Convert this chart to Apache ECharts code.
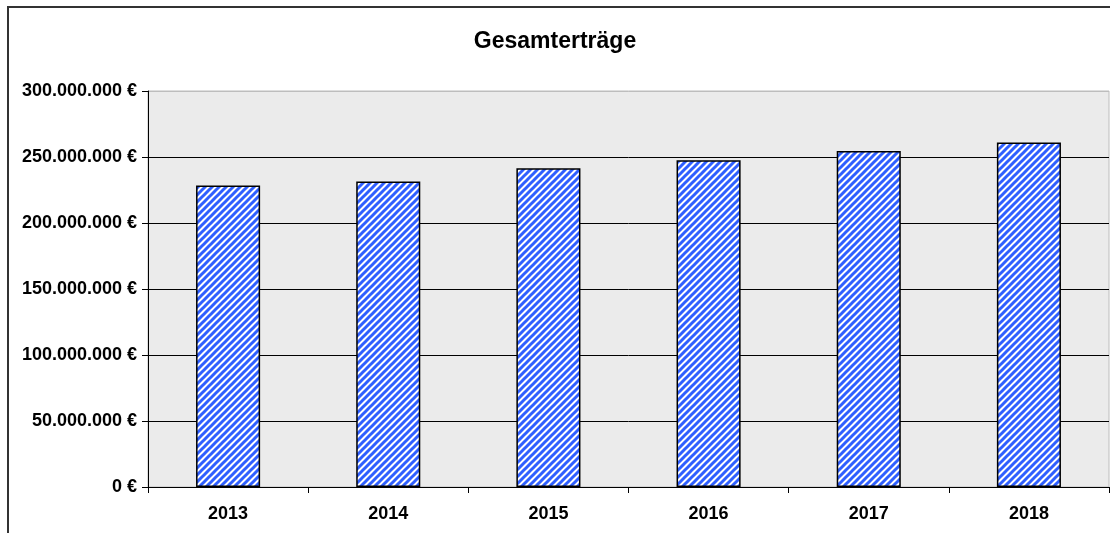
<!DOCTYPE html>
<html>
<head>
<meta charset="utf-8">
<script src="https://cdn.jsdelivr.net/npm/echarts@6/dist/echarts.min.js"></script>
<style>
  html, body { margin: 0; padding: 0; background: #fff; }
  #chart { width: 1110px; height: 533px; }
</style>
</head>
<body>
<div id="chart"></div>
<script>
const years = ['2013', '2014', '2015', '2016', '2017', '2018'];
const ertraege = [228500000, 231500000, 241500000, 247500000, 254500000, 261000000];
const yTicks = [0, 50000000, 100000000, 150000000, 200000000, 250000000, 300000000];

// Schraffur fuer die Balken (blau/weiss diagonal)
function stripePattern() {
  const size = 7;
  const c = document.createElement('canvas');
  c.width = size;
  c.height = size;
  const ctx = c.getContext('2d');
  ctx.fillStyle = '#ffffff';
  ctx.fillRect(0, 0, size, size);
  ctx.strokeStyle = '#2f5fff';
  ctx.lineWidth = 3;
  ctx.beginPath();
  ctx.moveTo(-1, size + 1); ctx.lineTo(size + 1, -1);
  ctx.moveTo(-2, 2); ctx.lineTo(2, -2);
  ctx.moveTo(size - 2, size + 2); ctx.lineTo(size + 2, size - 2);
  ctx.stroke();
  return c;
}

function euro(v) {
  return String(v).replace(/\B(?=(\d{3})+(?!\d))/g, '.') + ' €';
}

const fontFamily = 'Liberation Sans, Arial, sans-serif';

const option = {
  animation: false,
  title: {
    text: 'Gesamterträge',
    left: 'center',
    top: 25,
    textStyle: { fontFamily, fontWeight: 'bold', fontSize: 23, color: '#000' }
  },
  graphic: [
    {
      type: 'rect',
      shape: { x: 8, y: 7, width: 1200, height: 600 },
      style: { fill: 'none', stroke: '#333', lineWidth: 2 },
      silent: true
    }
  ],
  grid: {
    left: 148,
    top: 91,
    right: 1,
    bottom: 46,
    show: true,
    backgroundColor: '#ebebeb',
    borderColor: '#bdbdbd',
    borderWidth: 1
  },
  xAxis: {
    type: 'category',
    data: years,
    axisLine: { lineStyle: { color: '#000', width: 1 } },
    axisTick: { show: true, length: 6, inside: false, lineStyle: { color: '#000' } },
    axisLabel: { margin: 18, color: '#000', fontFamily, fontWeight: 'bold', fontSize: 18 }
  },
  yAxis: {
    type: 'value',
    min: yTicks[0],
    max: yTicks[yTicks.length - 1],
    interval: yTicks[1] - yTicks[0],
    axisLine: { show: true, lineStyle: { color: '#000', width: 1 } },
    axisTick: { show: true, length: 6, lineStyle: { color: '#000' } },
    axisLabel: { margin: 11, color: '#000', fontFamily, fontWeight: 'bold', fontSize: 18, formatter: euro },
    splitLine: {
      lineStyle: { color: ['#000', '#000', '#000', '#000', '#000', '#000', '#bdbdbd'], width: 1 }
    }
  },
  series: [
    {
      type: 'bar',
      data: ertraege,
      barWidth: '40%',
      itemStyle: {
        color: { image: stripePattern(), repeat: 'repeat' },
        borderColor: '#000',
        borderWidth: 1.5
      }
    }
  ]
};

const myChart = echarts.init(document.getElementById('chart'));
myChart.setOption(option);
window.addEventListener('resize', () => {
  myChart.resize();
});
</script>
</body>
</html>
